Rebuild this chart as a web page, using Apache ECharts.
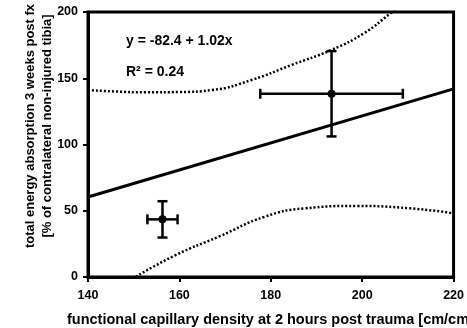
<!DOCTYPE html>
<html><head><meta charset="utf-8">
<script src="https://cdn.jsdelivr.net/npm/echarts@6/dist/echarts.min.js"></script>
<style>html,body{margin:0;padding:0;background:#fff}#c{width:467px;height:328px}</style>
</head><body><div id="c"></div>
<script>
// data
var xTicks = [140, 160, 180, 200, 220];
var yTicks = [0, 50, 100, 150, 200];
var pointX = [156.3, 193.3];
var pointY = [43.5, 138.3];
var pointXErr = [3.3, 15.6];
var pointYErr = [13.7, 32.2];
var regX = [140, 220];
var regY = [60.4, 142.0];
var upperX = [140, 146, 152.7, 160, 167.2, 175.8, 184.5, 193.2, 200.4, 206.2, 212];
var upperY = [141.1, 140.0, 139.4, 139.6, 141.1, 148.7, 160, 171.3, 184, 199, 214];
var lowerX = [150.5, 159.2, 168.6, 178.7, 187.4, 198.9, 210.5, 220];
var lowerY = [0.2, 16.6, 30.4, 45.5, 51.8, 53.6, 51.8, 48.1];
var eqText = 'y = -82.4 + 1.02x';
var r2Text = 'R² = 0.24';
var xTitle = 'functional capillary density at 2 hours post trauma [cm/cm²]';
var yTitle = 'total energy absorption 3 weeks post fx\n[% of contralateral non-injured tibia]';

function zip(a, b) { return a.map(function (v, i) { return [v, b[i]]; }); }

var FONT = 'Liberation Sans, Arial, sans-serif';
var chart = echarts.init(document.getElementById('c'), null, {renderer: 'canvas'});
var errData = pointX.map(function (x, i) { return [x, pointY[i], pointXErr[i], pointYErr[i]]; });

chart.setOption({
  animation: false,
  backgroundColor: '#fff',
  grid: {left: 88, right: 10, top: 12, bottom: 51, show: true, borderColor: '#000', borderWidth: 3, backgroundColor: 'transparent'},
  xAxis: {
    type: 'value', min: xTicks[0], max: xTicks[xTicks.length - 1], interval: 20,
    splitLine: {show: false},
    axisLine: {show: true, lineStyle: {color: '#000', width: 3}},
    axisTick: {show: true, inside: false, length: 5, lineStyle: {color: '#000', width: 2}},
    axisLabel: {color: '#000', fontFamily: FONT, fontWeight: 'bold', fontSize: 12.5, margin: 12}
  },
  yAxis: {
    type: 'value', min: yTicks[0], max: yTicks[yTicks.length - 1], interval: 50,
    splitLine: {show: false},
    axisLine: {show: true, lineStyle: {color: '#000', width: 3}},
    axisTick: {show: true, inside: false, length: 5, lineStyle: {color: '#000', width: 2}},
    axisLabel: {color: '#000', fontFamily: FONT, fontWeight: 'bold', fontSize: 12.5, margin: 10}
  },
  series: [
    {type: 'line', data: zip(regX, regY), symbol: 'none', lineStyle: {color: '#000', width: 3}, z: 3},
    {type: 'line', data: zip(upperX, upperY), smooth: true, symbol: 'none', clip: true,
     lineStyle: {color: '#000', width: 2.5, type: [2, 2]}, z: 2},
    {type: 'line', data: zip(lowerX, lowerY), smooth: true, symbol: 'none', clip: true,
     lineStyle: {color: '#000', width: 2.5, type: [2, 2]}, z: 2},
    {type: 'custom', data: errData, z: 5,
     renderItem: function (params, api) {
       var x = api.value(0), y = api.value(1), ex = api.value(2), ey = api.value(3);
       var c = api.coord([x, y]);
       var l = api.coord([x - ex, y]), r = api.coord([x + ex, y]);
       var t = api.coord([x, y + ey]), b = api.coord([x, y - ey]);
       var cap = 5;
       var st = {stroke: '#000', lineWidth: 2.5};
       return {type: 'group', children: [
         {type: 'line', shape: {x1: l[0], y1: l[1], x2: r[0], y2: r[1]}, style: st},
         {type: 'line', shape: {x1: t[0], y1: t[1], x2: b[0], y2: b[1]}, style: st},
         {type: 'line', shape: {x1: l[0], y1: l[1] - cap, x2: l[0], y2: l[1] + cap}, style: st},
         {type: 'line', shape: {x1: r[0], y1: r[1] - cap, x2: r[0], y2: r[1] + cap}, style: st},
         {type: 'line', shape: {x1: t[0] - cap, y1: t[1], x2: t[0] + cap, y2: t[1]}, style: st},
         {type: 'line', shape: {x1: b[0] - cap, y1: b[1], x2: b[0] + cap, y2: b[1]}, style: st},
         {type: 'circle', shape: {cx: c[0], cy: c[1], r: 4}, style: {fill: '#000'}}
       ]};
     }}
  ],
  graphic: [
    {type: 'text', x: 126, y: 41, style: {text: eqText, fill: '#000', font: 'bold 14px ' + FONT, verticalAlign: 'middle'}},
    {type: 'text', x: 126, y: 72.5, style: {text: r2Text, fill: '#000', font: 'bold 14px ' + FONT, verticalAlign: 'middle'}},
    {type: 'text', x: 67, y: 320, style: {text: xTitle, fill: '#000', font: 'bold 14.5px ' + FONT, verticalAlign: 'middle'}},
    {type: 'text', x: 38.5, y: 126, rotation: Math.PI / 2,
     style: {text: yTitle, fill: '#000', font: 'bold 13px ' + FONT, lineHeight: 17, align: 'center', verticalAlign: 'middle'}}
  ]
});
</script></body></html>
